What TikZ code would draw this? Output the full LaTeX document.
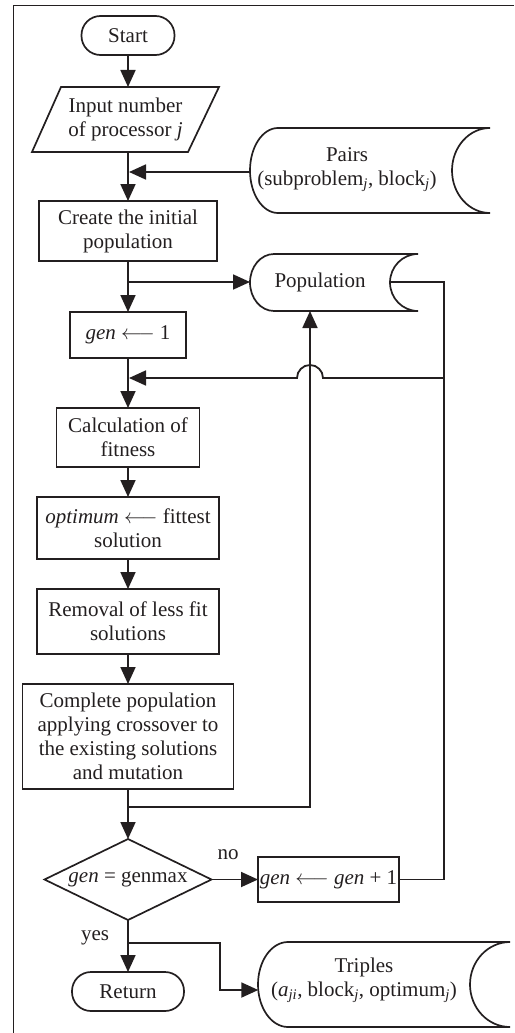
\documentclass[tikz,border=0pt]{standalone}
\usepackage{fontspec}
\setmainfont{Liberation Serif}
\usetikzlibrary{arrows.meta,shapes.geometric}
\newcommand\sub[1]{\textsubscript{\itshape #1}}
\definecolor{ink}{HTML}{231F20}
\begin{document}
\begin{tikzpicture}[x=1pt,y=1pt, color=ink,
  font=\fontsize{21}{24}\selectfont,
  outline/.style={line width=1.7pt},
  procbox/.style={draw, outline, align=center, inner sep=0pt, outer sep=0pt},
  termbox/.style={procbox, rounded corners=19pt},
  decbox/.style={draw, outline, shape=diamond, aspect=2.06, inner sep=0pt, outer sep=0pt},
  txt/.style={align=center, inner sep=0pt},
  link/.style={line width=1.8pt},
  flow/.style={link, -{Triangle[length=17pt,width=15pt]}}]
\useasboundingbox (0,0) rectangle (514,-1033);

% frame
\draw[link] (514,-5.5) -- (13.5,-5.5) -- (13.5,-1033);

% main column
\node[termbox, minimum width=93pt, minimum height=39pt] (start) at (128,-35.5) {Start};

\draw[outline] (32,-152) -- (188,-152) -- (219,-87) -- (61,-87) -- cycle;
\node[txt] (input) at (125.5,-119.5) {Input number\\of processor \textit{j}};
\coordinate (inTop) at (128,-87);
\coordinate (inBot) at (128,-152);

\node[procbox, minimum width=178pt, minimum height=60pt] (create) at (128,-231) {Create the initial\\population};
\node[procbox, minimum width=116pt, minimum height=46pt] (gen) at (128,-335) {\textit{gen} $\longleftarrow$ 1};
\node[procbox, minimum width=143pt, minimum height=59pt] (calc) at (128,-437.5) {Calculation of\\fitness};
\node[procbox, minimum width=182pt, minimum height=62pt] (opt) at (128,-528) {\textit{optimum} $\longleftarrow$ fittest\\solution};
\node[procbox, minimum width=182pt, minimum height=65pt] (rem) at (128,-621.5) {Removal of less fit\\solutions};
\node[procbox, minimum width=211pt, minimum height=105pt] (comp) at (128,-736.5) {Complete population\\applying crossover to\\the existing solutions\\and mutation};
\node[decbox, minimum width=167pt, minimum height=81pt] (dec) at (128,-879.5) {\textit{gen} = genmax};
\node[procbox, minimum width=141pt, minimum height=45pt] (genp) at (328.5,-879.5) {\textit{gen} $\longleftarrow$ \textit{gen} + 1};
\node[termbox, minimum width=112pt, minimum height=39pt] (ret) at (128,-991.5) {Return};

% stored data: pairs
\draw[outline] (490,-128) -- (278,-128)
  arc[start angle=90, end angle=270, x radius=28, y radius=42.5] -- (490,-213)
  arc[start angle=270, end angle=90, x radius=38, y radius=42.5];
\node[txt] (pairs) at (347,-170) {Pairs\\(subproblem\sub{j}, block\sub{j})};
\coordinate (pairsL) at (250,-172);

% stored data: population
\draw[outline] (418,-254) -- (274,-254)
  arc[start angle=90, end angle=270, x radius=24, y radius=28.5] -- (418,-311)
  arc[start angle=270, end angle=90, x radius=28, y radius=28.5];
\node[txt] (pop) at (320,-282.5) {Population};
\coordinate (popL) at (250,-282);
\coordinate (popR) at (390,-282);
\coordinate (popB) at (310,-311);

% stored data: triples
\draw[outline] (510,-942) -- (288,-942)
  arc[start angle=90, end angle=270, x radius=30, y radius=42.5] -- (510,-1027)
  arc[start angle=270, end angle=90, x radius=40, y radius=42.5];
\node[txt] (triples) at (364,-980) {Triples\\(\textit{a}\sub{ji}, block\sub{j}, optimum\sub{j})};
\coordinate (triL) at (258.3,-990);

% junctions on the main line
\coordinate (j1) at (129,-172);
\coordinate (j2) at (128,-282);
\coordinate (j3) at (129,-378);
\coordinate (j4) at (128,-807);
\coordinate (j5) at (128,-943);
\coordinate (rc) at (444,-378);

% connectors
\draw[flow] (start) -- (inTop);
\draw[flow] (inBot) -- (create);
\draw[flow] (pairsL) -- (j1);
\draw[flow] (create) -- (gen);
\draw[flow] (j2) -- (popL);
\draw[flow] (gen) -- (calc);
\draw[flow] (calc) -- (opt);
\draw[flow] (opt) -- (rem);
\draw[flow] (rem) -- (comp);
\draw[flow] (comp) -- (dec);
\draw[flow] (j4) -| (popB);
\draw[flow] (dec) -- (genp);
\draw[flow] (dec) -- (ret);
\draw[flow] (j5) -- (220,-943) |- (triL);

% loop back to the fitness step, hopping over the population line
\draw[link] (popR) -| (rc);
\draw[link] (genp.east) -| (rc);
\draw[flow] (rc) -- (323,-378) arc[start angle=0, end angle=180, radius=13] -- (j3);

% branch labels
\node[txt] (no) at (228,-855) {no};
\node[txt] (yes) at (95,-938) {yes};
\end{tikzpicture}
\end{document}
